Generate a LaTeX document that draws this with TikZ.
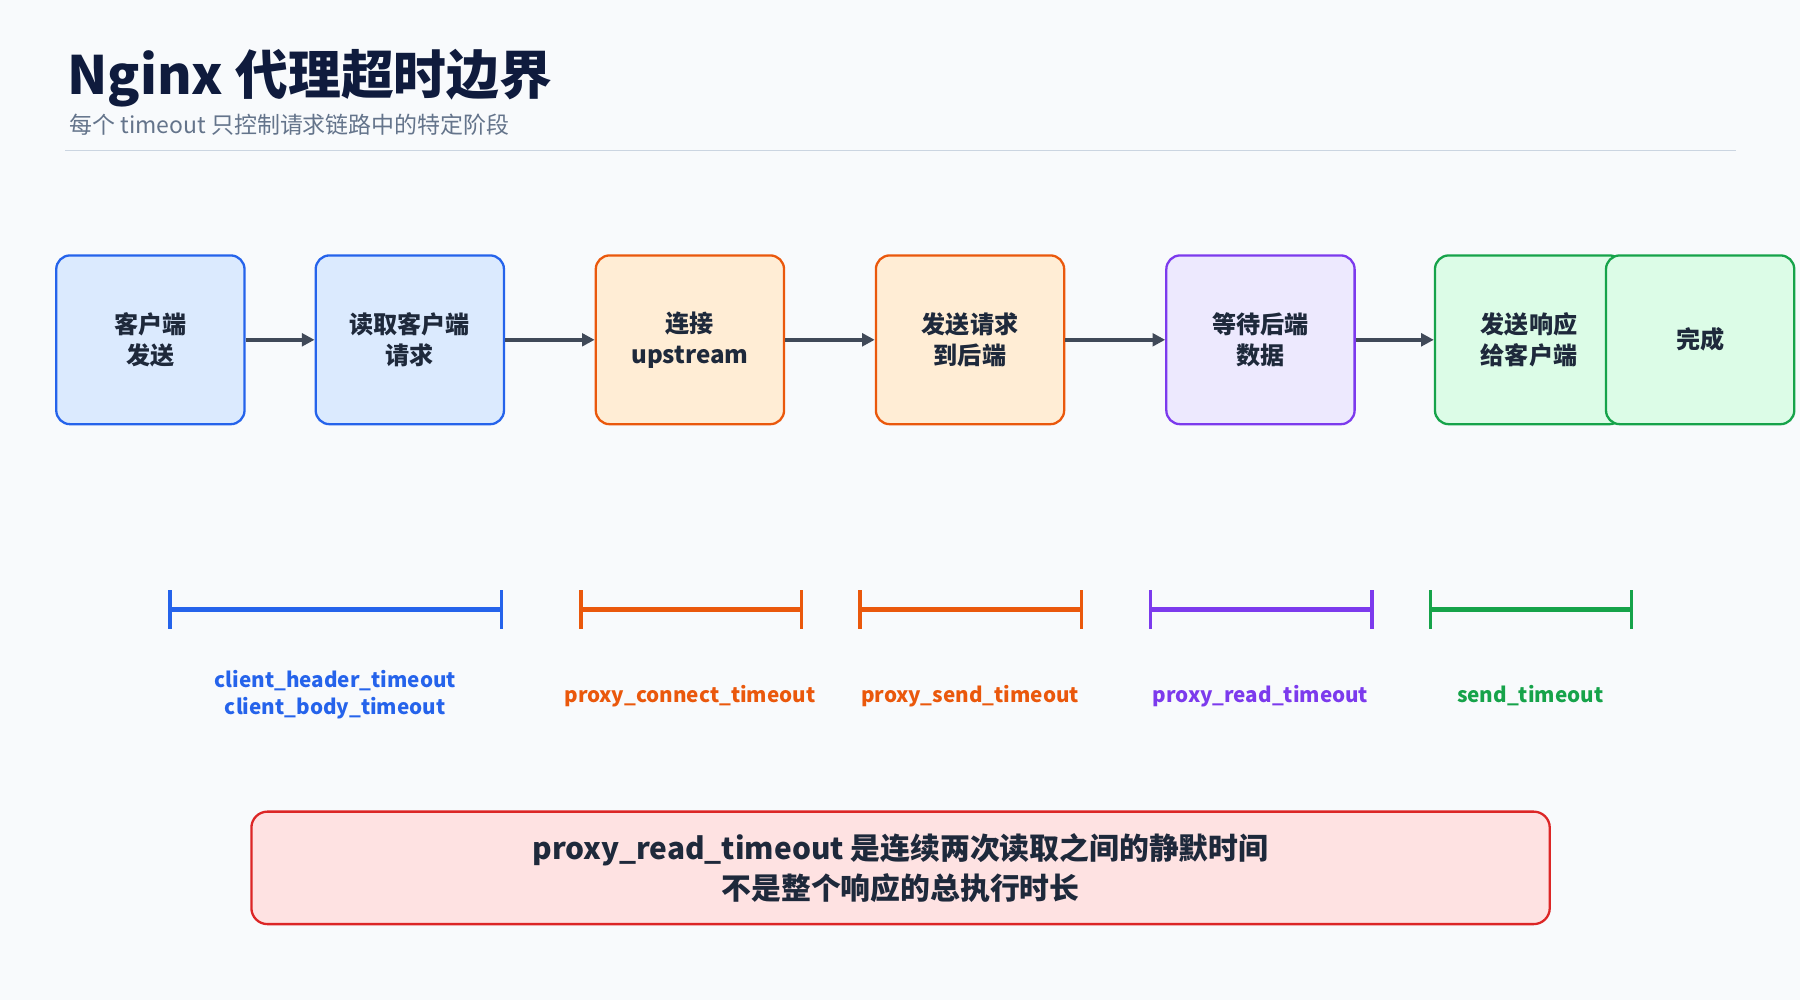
\documentclass[tikz,border=0pt]{standalone}
\usepackage{fontspec}
\setmainfont{Noto Sans CJK SC}
\usetikzlibrary{arrows.meta}
\definecolor{bg}{HTML}{F8FAFC}
\definecolor{ink}{HTML}{1E293B}
\definecolor{title}{HTML}{0F1B3D}
\definecolor{sub}{HTML}{64748B}
\definecolor{rule}{HTML}{CBD5E1}
\definecolor{bF}{HTML}{DBEAFE}\definecolor{bS}{HTML}{2563EB}
\definecolor{oF}{HTML}{FFEDD5}\definecolor{oS}{HTML}{EA580C}
\definecolor{pF}{HTML}{EDE9FE}\definecolor{pS}{HTML}{7C3AED}
\definecolor{gF}{HTML}{DCFCE7}\definecolor{gS}{HTML}{16A34A}
\definecolor{rF}{HTML}{FEE2E2}\definecolor{rS}{HTML}{DC2626}
\begin{document}
\begin{tikzpicture}[x=1pt,y=-1pt,
 box/.style={draw=#1S,fill=#1F,line width=2pt,rounded corners=12pt,minimum width=164pt,minimum height=147pt,align=center,inner sep=0pt,font=\fontsize{21}{27}\selectfont\bfseries,text=ink},
 arr/.style={draw=ink!85,line width=3pt,-{Triangle[length=11pt,width=11pt]}},
 br/.style={draw=#1,line width=4pt},
 lab/.style={font=\fontsize{18}{23}\selectfont\bfseries,align=center}]
\fill[bg] (0,0) rectangle (1568,871);
\useasboundingbox (0,0) rectangle (1568,871);
\node[anchor=west,text=title,font=\fontsize{46}{50}\selectfont\bfseries] (t) at (55,68) {Nginx 代理超时边界};
\node[anchor=west,text=sub,font=\fontsize{20}{24}\selectfont] (s) at (57,109) {每个 timeout 只控制请求链路中的特定阶段};
\draw[rule,line width=1.2pt] (57,131) -- (1512,131);
\node[box=b] (n1) at (131,296) {客户端\\发送};
\node[box=b] (n2) at (357,296) {读取客户端\\请求};
\node[box=o] (n3) at (601,296) {连接\\upstream};
\node[box=o] (n4) at (845,296) {发送请求\\到后端};
\node[box=p] (n5) at (1098,296) {等待后端\\数据};
\node[box=g] (n6) at (1332,296) {发送响应\\给客户端};
\node[box=g] (n7) at (1481,296) {完成};
\draw[arr] (n1) -- (n2);
\draw[arr] (n2) -- (n3);
\draw[arr] (n3) -- (n4);
\draw[arr] (n4) -- (n5);
\draw[arr] (n5) -- (n6);
\foreach \a/\b/\c in {148/437/bS,506/698/oS,749/942/oS,1002/1195/pS,1246/1421/gS}{
 \draw[br=\c] (\a,531) -- (\b,531);
 \draw[draw=\c,line width=3pt] (\a,514) -- (\a,548) (\b,514) -- (\b,548);}
\node[lab,text=bS] (l1) at (292,605) {client\_header\_timeout\\client\_body\_timeout};
\node[lab,text=oS] (l2) at (601,606) {proxy\_connect\_timeout};
\node[lab,text=oS] (l3) at (845,606) {proxy\_send\_timeout};
\node[lab,text=pS] (l4) at (1098,606) {proxy\_read\_timeout};
\node[lab,text=gS] (l5) at (1333,606) {send\_timeout};
\node[draw=rS,fill=rF,line width=2pt,rounded corners=14pt,minimum width=1131pt,minimum height=98pt,align=center,text=ink,font=\fontsize{26}{35}\selectfont\bfseries] (note) at (784.5,756) {proxy\_read\_timeout 是连续两次读取之间的静默时间\\不是整个响应的总执行时长};
\end{tikzpicture}
\end{document}
